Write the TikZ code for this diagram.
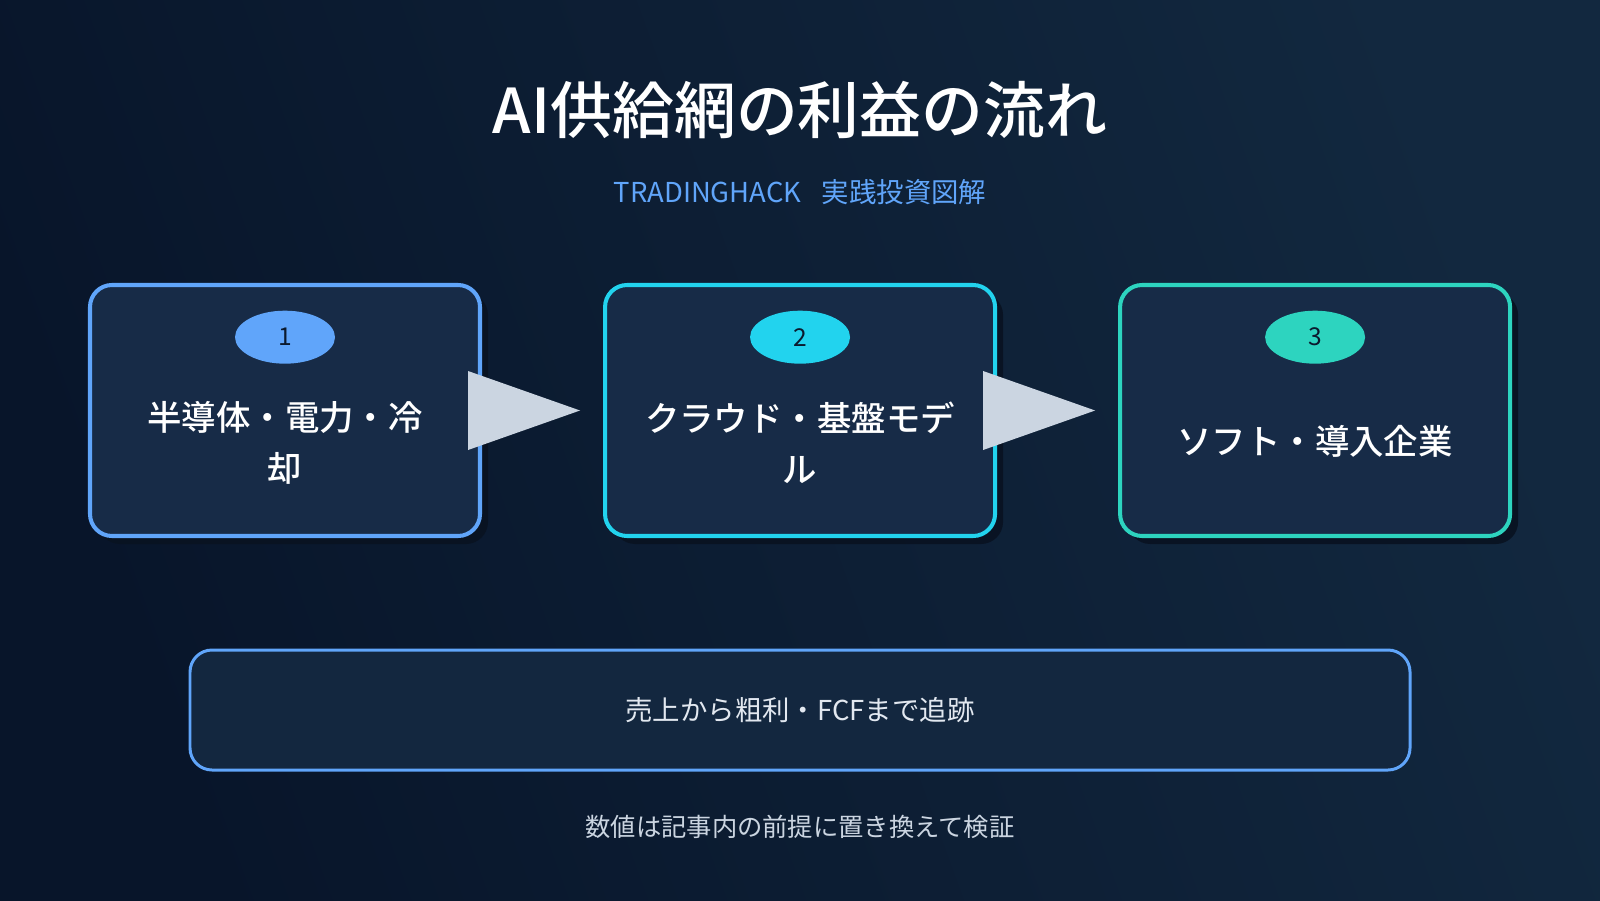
\documentclass[tikz,border=0pt]{standalone}
\usepackage{fontspec}
\setmainfont{Noto Sans CJK JP}[BoldFont={Noto Sans CJK JP Medium}]
\usetikzlibrary{shapes.geometric,positioning,calc,shadows}
\usepackage{xcolor}
\definecolor{bgdark}{HTML}{08152A}
\definecolor{bglight}{HTML}{12283F}
\definecolor{cardbg}{HTML}{172B47}
\definecolor{shadowc}{HTML}{091322}
\definecolor{stepblue}{HTML}{60A5FA}
\definecolor{stepcyan}{HTML}{22D3EE}
\definecolor{stepteal}{HTML}{2DD4BF}
\definecolor{tipgray}{HTML}{CBD5E1}
\definecolor{pilltxt}{HTML}{0B1A2E}
\definecolor{notebg}{HTML}{13273F}
\definecolor{softwhite}{HTML}{E2E8F0}

\begin{document}
\begin{tikzpicture}[
  card/.style={rectangle, rounded corners=0.22cm, draw=#1, line width=1.15pt, fill=cardbg, minimum width=3.9cm, minimum height=2.51cm,
    drop shadow={shadow xshift=0.08cm, shadow yshift=-0.08cm, fill=shadowc, opacity=0.95}},
  pill/.style={ellipse, fill=#1, minimum width=1cm, minimum height=0.53cm, inner sep=0pt, text=pilltxt, font=\fontsize{7}{8}\selectfont},
  cardtxt/.style={text=white, align=center, font=\fontsize{9.8}{14.5}\selectfont\bfseries},
  flowtip/.style={fill=tipgray},
  notebox/.style={rectangle, rounded corners=0.22cm, draw=stepblue, line width=0.85pt, fill=notebg, minimum width=12.2cm, minimum height=1.2cm, text=softwhite, font=\fontsize{7.8}{9}\selectfont}
]
  % background
  \useasboundingbox (0,0) rectangle (16,9);
  \shade[left color=bgdark, right color=bglight, shading angle=110] (0,0) rectangle (16,9);

  % heading
  \node[text=white, font=\fontsize{17.6}{20}\selectfont\bfseries] (title) at (8, 7.9) {AI供給網の利益の流れ};
  \node[text=stepblue, font=\fontsize{7.8}{9}\selectfont] (sub) at (8, 7.08) {TRADINGHACK\hspace{0.75em}実践投資図解};

  % three stages
  \node[card=stepblue] (b1) at (2.85, 4.895) {};
  \node[card=stepcyan, right=1.21cm of b1] (b2) {};
  \node[card=stepteal, right=1.21cm of b2] (b3) {};

  \node[pill=stepblue, below=0.27cm of b1.north] (p1) {1};
  \node[pill=stepcyan, below=0.27cm of b2.north] (p2) {2};
  \node[pill=stepteal, below=0.27cm of b3.north] (p3) {3};

  \node[cardtxt] (t1) at ($(b1.center)+(0,-0.32)$) {半導体・電力・冷\\却};
  \node[cardtxt] (t2) at ($(b2.center)+(0,-0.32)$) {クラウド・基盤モデ\\ル};
  \node[cardtxt] (t3) at ($(b3.center)+(0,-0.31)$) {ソフト・導入企業};

  % flow tips
  \fill[flowtip] ($(b1.east)+(-0.14,0.395)$) -- ($(b2.west)+(-0.23,0)$) -- ($(b1.east)+(-0.14,-0.395)$) -- cycle;
  \fill[flowtip] ($(b2.east)+(-0.14,0.395)$) -- ($(b3.west)+(-0.23,0)$) -- ($(b2.east)+(-0.14,-0.395)$) -- cycle;

  % summary
  \node[notebox] (note) at (8, 1.9) {売上から粗利・FCFまで追跡};
  \node[text=tipgray, font=\fontsize{7.2}{9}\selectfont] (foot) at (8, 0.73) {数値は記事内の前提に置き換えて検証};
\end{tikzpicture}
\end{document}
